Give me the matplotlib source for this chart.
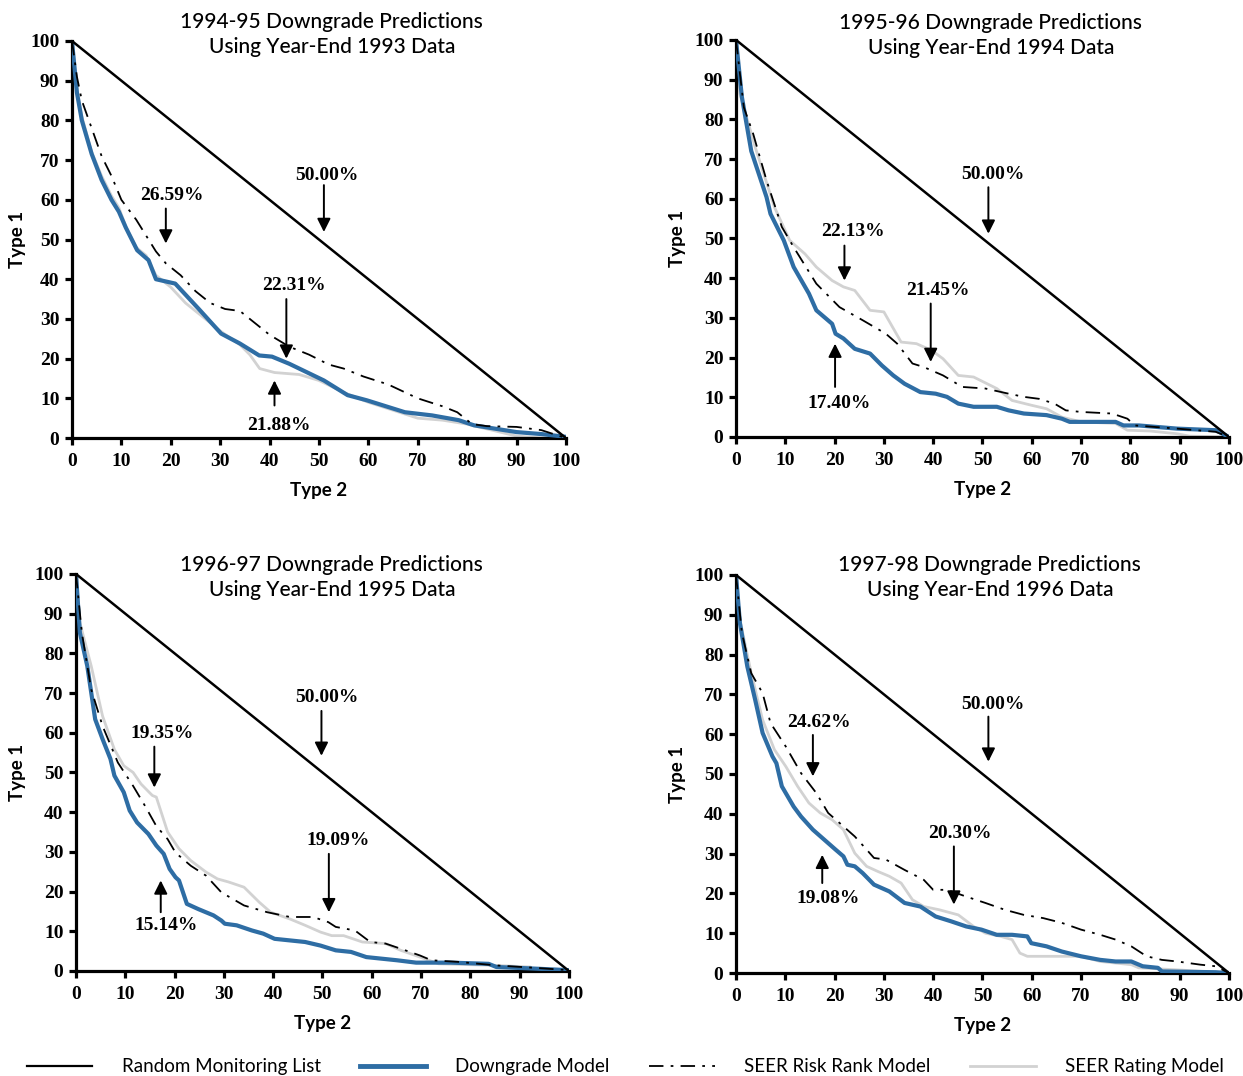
import matplotlib
matplotlib.use('Agg')
import matplotlib.pyplot as plt
from matplotlib.lines import Line2D

# --- data (Type 2 on x, Type 1 on y) ---
titles = ['1994-95 Downgrade Predictions\nUsing Year-End 1993 Data',
          '1995-96 Downgrade Predictions\nUsing Year-End 1994 Data',
          '1996-97 Downgrade Predictions\nUsing Year-End 1995 Data',
          '1997-98 Downgrade Predictions\nUsing Year-End 1996 Data']

random_x = [0, 100]
random_y = [100, 0]

# 1994-95
down_x_1 = [0, 1, 2, 4, 6, 8, 9.5, 10.9, 13.2, 15.5, 17, 20.9, 25.6, 30.2, 34, 37.9, 40.5, 44, 51, 55.8,
            59.7, 67.4, 72.9, 78.3, 81.4, 90, 95, 100]
down_y_1 = [100, 87, 80, 71.5, 65, 60, 57, 53, 47.3, 44.8, 40, 38.9, 32.6, 26.3, 23.8, 20.8, 20.5, 18.7, 14.5, 10.8,
            9.5, 6.5, 5.7, 4.5, 3.2, 1.5, 1, 0.3]
rating_x_1 = [0, 1, 2, 4, 6, 8, 9.5, 11, 13, 15, 17, 20, 23, 26, 30, 34, 36, 38, 41, 46, 50, 55, 60, 65, 70,
              75, 80, 85, 90, 95, 100]
rating_y_1 = [100, 88, 81, 72, 66, 61, 58, 53, 48, 46, 41, 38, 34, 31, 27, 23.5, 21, 17.5, 16.5, 16, 14.5, 11.5,
              9, 7, 5, 4.5, 3.5, 2, 0.5, 0, 0]
risk_x_1 = [0, 1, 2, 4, 6, 8, 10, 13, 15, 17, 19, 22, 25, 28, 31, 34, 37, 40, 44, 48, 52, 55, 59, 64, 70, 75,
            78, 81, 84, 90, 95, 100]
risk_y_1 = [100, 91, 85, 78, 71, 66, 60, 55, 51, 47, 44, 41, 37, 34, 32.5, 32, 29, 26, 23, 21, 18.5, 17.5, 15.5,
            13.5, 10, 8, 6.5, 3.5, 3, 2.8, 2, 0]

# 1995-96
down_x_2 = [0, 1.2, 3.1, 6.2, 7, 9.7, 11.7, 14.8, 16.3, 19.5, 20.2, 21.8, 24.1, 27.2, 29.6, 31.9, 34.2, 37.4,
            40.5, 42.8, 45.1, 48.2, 52.9, 55.3, 58.4, 63, 66.1, 67.7, 77, 78.6, 81.7, 89.5, 97.3, 100]
down_y_2 = [100, 85.6, 72, 60.4, 56.2, 49.5, 42.8, 36.1, 31.9, 28.5, 26, 24.8, 22.2, 21, 18, 15.5, 13.4, 11.3,
            10.9, 10.1, 8.4, 7.6, 7.6, 6.7, 5.9, 5.5, 4.6, 3.8, 3.8, 2.9, 2.9, 2.1, 1.7, 0]
rating_x_2 = [0, 0.8, 3.9, 7.8, 10.9, 14, 16.3, 19.5, 21.8, 24.1, 27.2, 30, 33.5, 36.6, 39.7, 42, 45.1, 48.2,
              52.9, 56, 59.9, 63, 66.1, 70, 77, 79.4, 84, 89.5, 92, 100]
rating_y_2 = [100, 86.4, 73, 57.9, 49.5, 46.1, 42.8, 39.4, 37.8, 36.9, 31.9, 31.5, 23.9, 23.5, 21.8, 19.7, 15.5,
              15.1, 12.2, 9.2, 8, 7.1, 5, 3.8, 3.4, 1.7, 1.5, 0.8, 0.2, 0]
risk_x_2 = [0, 1.6, 3.5, 6.2, 9.3, 11.7, 16.3, 21, 25.7, 30.4, 32.7, 35.8, 38.1, 42, 45.9, 50.6, 55.3, 58.4,
            61.5, 64.6, 66.9, 70, 76.3, 79.4, 80.9, 89.5, 97.3, 100]
risk_y_2 = [100, 83, 76.3, 64.6, 52.9, 47.8, 38.6, 32.7, 29.4, 26, 23.5, 18.5, 17.6, 15.5, 12.6, 12.2, 10.9,
            10.1, 9.6, 8.4, 6.7, 6.3, 5.9, 4.6, 2.9, 2.1, 1.3, 0]

# 1996-97
down_x_3 = [0, 0.8, 2.3, 3.9, 5.4, 7, 7.8, 9.7, 10.9, 12.4, 14.7, 16.3, 17.8, 19, 20.2, 20.9, 22.5, 24.8, 27.9,
            29.5, 30.2, 32.6, 35.7, 38, 40.3, 43.4, 46.5, 49.6, 52.7, 55.8, 58.9, 62, 65.1, 69, 76, 83.7,
            85.3, 93, 100]
down_y_3 = [100, 85.2, 76.8, 63.4, 58.4, 53.4, 49.2, 45, 40.4, 37.4, 34.5, 31.6, 29.5, 25.7, 23.6, 22.8, 16.9,
            15.6, 14, 12.7, 11.9, 11.5, 10.2, 9.4, 8.1, 7.7, 7.3, 6.4, 5.2, 4.8, 3.5, 3.1, 2.7, 2.1, 2.1, 1.8,
            1, 0.6, 0.2]
rating_x_3 = [0, 0.8, 3.1, 5.4, 7.8, 9.7, 11.6, 13.2, 15.5, 16.3, 18.6, 20.9, 23.3, 26.4, 28.7, 31, 34.1, 37.2,
              39.5, 43.4, 46.5, 49.6, 51.9, 54.3, 58.1, 62.8, 65.9, 69.8, 73.6, 85.3, 92.2, 93, 100]
rating_y_3 = [100, 87.7, 76.8, 64.2, 55.8, 51.7, 50, 47.1, 44.2, 43.8, 35, 30.8, 27.8, 24.9, 23.2, 22.4, 21.1,
              17.3, 14.8, 13.1, 11.5, 9.8, 8.9, 8.9, 7.3, 6.9, 5.2, 3.5, 1.8, 1.4, 1, 0, 0]
risk_x_3 = [0, 1.2, 3.1, 5.4, 8.5, 11.6, 14, 16.3, 18.6, 20.2, 23.3, 26.4, 29.5, 34.1, 38.8, 43.4, 48.1, 51.2,
            52.7, 56.6, 59.7, 62.8, 65.9, 69.8, 72.1, 77.5, 85.3, 93, 100]
risk_y_3 = [100, 85.2, 70.9, 61.7, 52.5, 46.6, 41.6, 36.5, 33.2, 29.8, 26.5, 24, 19.8, 16.5, 14.8, 13.6, 13.6,
            12.3, 11.1, 10.2, 7.3, 6.9, 5.6, 3.9, 2.7, 2.3, 1.4, 0.8, 0.2]

# 1997-98
down_x_4 = [0, 0.8, 2.3, 3.9, 5.4, 7.4, 8.2, 9.3, 11.7, 13.2, 15.6, 17.9, 20.2, 21.8, 22.6, 24.1, 25.7, 28,
            31.1, 34.2, 37.4, 40.5, 43.6, 46.7, 49.8, 52.9, 56, 59.1, 59.9, 63, 66.1, 70, 73.9, 77, 80.2, 82.5,
            85.6, 86.4, 97.3, 100]
down_y_4 = [100, 87.9, 77, 68.6, 60.3, 54.4, 52.7, 46.9, 41.8, 39.3, 36, 33.5, 31, 29.3, 27.2, 26.8, 25.1, 22.2,
            20.5, 17.6, 16.7, 14.2, 13, 11.7, 10.9, 9.6, 9.6, 9.2, 7.5, 6.7, 5.4, 4.2, 3.3, 2.9, 2.9, 1.7, 1.3,
            0.4, 0.2, 0]
rating_x_4 = [0, 0.8, 3.1, 5.4, 7.8, 10.1, 12.5, 14.8, 17.1, 19.5, 21.8, 24.1, 26.5, 28.8, 31.1, 33.5, 35.8,
              38.1, 41.2, 45.1, 48.2, 50.6, 53.7, 56, 57.6, 59.1, 63, 70, 73.9, 80.2, 81.7, 89.5, 100]
rating_y_4 = [100, 88.7, 75.3, 63.6, 56.1, 51.9, 46.9, 42.7, 40.2, 38.5, 36, 30.1, 26.8, 25.5, 24.3, 22.6, 18.4,
              16.7, 15.9, 14.6, 11.7, 10, 9.2, 8.4, 5, 4.2, 4.2, 4.2, 2.9, 2.1, 1.3, 0.8, 0]
risk_x_4 = [0, 1.2, 3.1, 5.4, 7, 10.1, 13.2, 16.3, 18.7, 21, 24.1, 26.5, 28, 30.4, 34.2, 38.1, 40, 42.8, 46.7,
            50.6, 54.5, 58.4, 62.3, 66.1, 70, 73.9, 77, 80.2, 83.3, 86.4, 89.5, 94.2, 97.3, 100]
risk_y_4 = [100, 85.4, 75.3, 70.3, 62.8, 56.9, 50.2, 45.2, 40.2, 37.7, 34.3, 31, 28.9, 28.5, 25.9, 23.4, 20.9,
            20.9, 19.2, 17.6, 15.9, 14.6, 13.8, 12.6, 10.9, 9.6, 8.4, 6.7, 4.2, 3.3, 2.9, 2.1, 1.7, 0]

# area labels: (text, text x, text y, arrow tail x, tail y, arrow tip x, tip y)
notes_1 = [('50.00%', 51.6, 66.2, 51, 63.7, 51, 51.9), ('26.59%', 20.3, 61.2, 19, 57.8, 19, 49),
           ('22.31%', 45, 38.3, 43.4, 35, 43.4, 20), ('21.88%', 41.9, 3.2, 41, 8.2, 41, 14.5)]
notes_2 = [('50.00%', 52.1, 66, 51.2, 62.9, 51.2, 51.2), ('22.13%', 23.7, 51.7, 22, 48.2, 22, 39.4),
           ('21.45%', 40.9, 36.9, 39.5, 33.6, 39.5, 18.9), ('17.40%', 21, 8.4, 20.1, 12.6, 20.1, 23.5)]
notes_3 = [('50.00%', 50.8, 68.8, 49.8, 65.5, 49.8, 54.2), ('19.35%', 17.4, 59.9, 15.9, 56.5, 15.9, 46.2),
           ('19.09%', 53.1, 32.8, 51.3, 29.5, 51.3, 14.8), ('15.14%', 18.2, 11.5, 17.2, 14.8, 17.2, 22.8)]
notes_4 = [('50.00%', 52.1, 67.4, 51.2, 64.4, 51.2, 53.1), ('24.62%', 16.9, 62.9, 15.6, 59.8, 15.6, 49.4),
           ('20.30%', 45.5, 35, 44.2, 31.8, 44.2, 17.2), ('19.08%', 18.7, 18.6, 17.5, 22.6, 17.5, 29.7)]

panels = [
    (down_x_1, down_y_1, rating_x_1, rating_y_1, risk_x_1, risk_y_1, notes_1),
    (down_x_2, down_y_2, rating_x_2, rating_y_2, risk_x_2, risk_y_2, notes_2),
    (down_x_3, down_y_3, rating_x_3, rating_y_3, risk_x_3, risk_y_3, notes_3),
    (down_x_4, down_y_4, rating_x_4, rating_y_4, risk_x_4, risk_y_4, notes_4),
]

# --- layout ---
axes_pos = [[0.0579, 0.5929, 0.3974, 0.369],
            [0.5921, 0.5939, 0.3966, 0.369],
            [0.0611, 0.0976, 0.3966, 0.369],
            [0.5921, 0.0957, 0.3966, 0.370]]
title_pos = [(0.526, 1.017), (0.517, 1.012), (0.519, 0.991), (0.515, 0.994)]
ylabel_x = [-0.093, -0.102, -0.102, -0.102]

BLUE = '#2e6da4'
GRAY = '#d2d2d2'
title_font = 'Lato'
tick_font = 'Liberation Serif'

fig = plt.figure(figsize=(12.43, 10.76), dpi=100)

for i, (dx, dy, gx, gy, rx, ry, notes) in enumerate(panels):
    ax = fig.add_axes(axes_pos[i])
    ax.plot(gx, gy, color=GRAY, lw=2, zorder=2)
    ax.plot(dx, dy, color=BLUE, lw=3, zorder=3)
    ax.plot(rx, ry, color='black', lw=1.3, ls=(0, (8, 4, 1.5, 4)), zorder=4)
    ax.plot(random_x, random_y, color='black', lw=1.8, zorder=5)

    ax.set_xlim(0, 100)
    ax.set_ylim(0, 100)
    ax.set_xticks(range(0, 101, 10))
    ax.set_yticks(range(0, 101, 10))
    for s in ['top', 'right']:
        ax.spines[s].set_visible(False)
    for s in ['left', 'bottom']:
        ax.spines[s].set_linewidth(2.3)
    ax.tick_params(direction='out', length=5, width=2.3, pad=4)
    ax.tick_params(axis='x', pad=6)
    for lab in ax.get_xticklabels() + ax.get_yticklabels():
        lab.set_fontfamily(tick_font)
        lab.set_fontweight('bold')
        lab.set_fontsize(14)

    ax.set_xlabel('Type 2', fontfamily=title_font, fontsize=13.5, fontweight='bold')
    ax.set_ylabel('Type 1', fontfamily=title_font, fontsize=13.5, fontweight='bold')
    ax.xaxis.set_label_coords(0.5, -0.11)
    ax.yaxis.set_label_coords(ylabel_x[i], 0.5)

    tx, ty = title_pos[i]
    ax.text(tx, ty, titles[i], transform=ax.transAxes, ha='center', va='center',
            fontfamily=title_font, fontweight='medium', fontsize=15, linespacing=1.3)

    for txt, x, y, x0, y0, x1, y1 in notes:
        ax.text(x, y, txt, ha='center', va='center', fontfamily=tick_font,
                fontweight='bold', fontsize=14, zorder=6)
        ax.annotate('', xy=(x1, y1), xytext=(x0, y0),
                    arrowprops=dict(arrowstyle='-|>', color='black', lw=1.4,
                                    mutation_scale=20, shrinkA=0, shrinkB=0),
                    zorder=6)

handles = [Line2D([], [], color='black', lw=1.6),
           Line2D([], [], color=BLUE, lw=3.5),
           Line2D([], [], color='black', lw=1.3, ls=(0, (8, 4, 1.5, 4))),
           Line2D([], [], color=GRAY, lw=2)]
labels = ['Random Monitoring List', 'Downgrade Model', 'SEER Risk Rank Model', 'SEER Rating Model']
fig.legend(handles, labels, loc='center', bbox_to_anchor=(0.008, 0.0, 0.99, 0.017),
           mode='expand', ncol=4, frameon=False, handlelength=3.5, handletextpad=1.55,
           prop={'family': title_font, 'size': 13.5})

fig.savefig('out.png', dpi=100)
